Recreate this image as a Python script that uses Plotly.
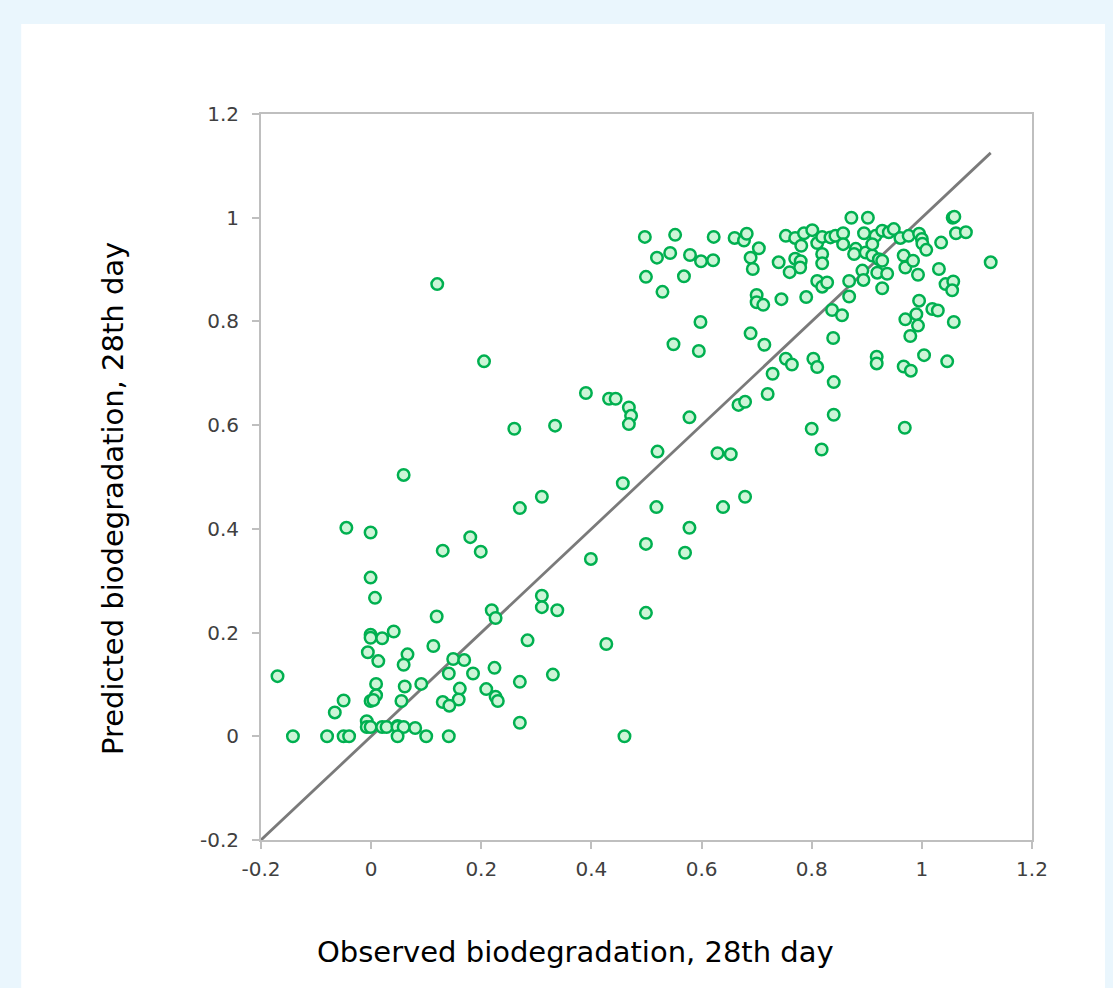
import plotly.graph_objects as go

# Observed (x) and predicted (y) biodegradation, 28th day
observed = [
    0.120, 0.205, 0.390, 0.432, 0.444, 0.468, 0.472, 0.468, 0.260, 0.334,
    0.059, 0.457, 0.310, 0.270, 0.518, -0.045, -0.001, 0.180, 0.130, 0.199,
    0.499, 0.399, -0.001, 0.007, 0.310, 0.310, 0.338, 0.219, 0.226, 0.499,
    0.119, -0.001, -0.001, 0.020, 0.041, -0.006, 0.013, 0.066, 0.059, 0.113,
    0.284, 0.427, 0.149, 0.169, 0.141, 0.185, 0.224, 0.330, 0.270, -0.170,
    0.009, 0.061, 0.091, 0.161, 0.009, -0.001, 0.004, -0.050, 0.055, 0.159,
    0.130, 0.142, 0.209, 0.226, 0.230, -0.066, 0.270, -0.008, -0.008, -0.001,
    0.020, 0.028, 0.048, 0.048, 0.059, 0.080, -0.142, -0.080, -0.050, -0.040,
    0.048, 0.100, 0.141, 0.460,
    0.549, 0.595, 0.689, 0.714, 0.839, 0.979, 0.753, 0.764, 0.803, 0.810,
    0.918, 0.918, 0.967, 0.980, 1.004, 1.046, 0.729, 0.840, 0.720, 0.667,
    0.679, 0.840, 0.800, 0.969, 0.578, 0.818, 0.629, 0.653, 0.520, 0.679,
    0.639, 0.578, 0.570,
    0.497, 0.552, 0.622, 0.660, 0.677, 0.682, 0.519, 0.543, 0.579, 0.599,
    0.621, 0.499, 0.568, 0.529, 0.598, 0.689, 0.693, 0.704, 0.740, 0.753,
    0.770, 0.786, 0.801, 0.781, 0.810, 0.819, 0.834, 0.819, 0.819, 0.770,
    0.780, 0.779, 0.760, 0.810, 0.819, 0.828, 0.700, 0.700, 0.712, 0.745,
    0.790,
    0.872, 0.902, 1.056, 1.059, 1.062, 1.080, 1.125, 0.843, 0.857, 0.857,
    0.895, 0.916, 0.928, 0.940, 0.949, 0.961, 0.976, 0.995, 1.000, 1.001,
    1.008, 1.035, 0.880, 0.877, 0.898, 0.910, 0.922, 0.928, 0.910, 0.892,
    0.894, 0.919, 0.937, 0.928, 0.967, 0.970, 0.984, 0.993, 1.031, 0.868,
    0.868, 1.043, 1.057, 1.055, 0.995, 0.837, 0.855, 1.019, 1.029, 0.990,
    0.970, 0.993, 1.058,
]
predicted = [
    0.872, 0.723, 0.662, 0.651, 0.651, 0.634, 0.618, 0.602, 0.593, 0.599,
    0.504, 0.488, 0.462, 0.440, 0.442, 0.402, 0.393, 0.384, 0.358, 0.356,
    0.371, 0.342, 0.306, 0.267, 0.271, 0.249, 0.243, 0.243, 0.228, 0.238,
    0.231, 0.196, 0.190, 0.189, 0.202, 0.162, 0.145, 0.158, 0.138, 0.174,
    0.185, 0.178, 0.149, 0.147, 0.121, 0.121, 0.132, 0.119, 0.105, 0.116,
    0.101, 0.096, 0.101, 0.092, 0.079, 0.068, 0.070, 0.069, 0.068, 0.071,
    0.066, 0.059, 0.091, 0.076, 0.068, 0.046, 0.026, 0.029, 0.018, 0.018,
    0.018, 0.018, 0.020, 0.018, 0.018, 0.016, 0.000, 0.000, 0.000, 0.000,
    0.000, 0.000, 0.000, 0.000,
    0.756, 0.743, 0.777, 0.755, 0.768, 0.772, 0.728, 0.717, 0.728, 0.712,
    0.732, 0.719, 0.713, 0.705, 0.735, 0.723, 0.699, 0.683, 0.660, 0.639,
    0.645, 0.620, 0.593, 0.595, 0.615, 0.553, 0.546, 0.544, 0.549, 0.462,
    0.442, 0.402, 0.354,
    0.963, 0.967, 0.963, 0.961, 0.956, 0.969, 0.923, 0.932, 0.928, 0.916,
    0.918, 0.886, 0.887, 0.857, 0.799, 0.923, 0.901, 0.941, 0.914, 0.965,
    0.961, 0.970, 0.976, 0.946, 0.951, 0.963, 0.962, 0.930, 0.912, 0.921,
    0.916, 0.904, 0.895, 0.878, 0.867, 0.875, 0.851, 0.837, 0.832, 0.843,
    0.847,
    1.000, 1.000, 1.000, 1.002, 0.970, 0.972, 0.914, 0.965, 0.970, 0.949,
    0.970, 0.965, 0.975, 0.972, 0.978, 0.961, 0.965, 0.969, 0.959, 0.950,
    0.938, 0.952, 0.940, 0.930, 0.933, 0.927, 0.920, 0.917, 0.949, 0.898,
    0.880, 0.894, 0.892, 0.864, 0.927, 0.904, 0.917, 0.890, 0.901, 0.878,
    0.848, 0.872, 0.877, 0.860, 0.840, 0.822, 0.812, 0.824, 0.821, 0.814,
    0.804, 0.792, 0.799,
]

# Reference line y = x
line_x = [-0.2, 1.125]
line_y = [-0.2, 1.125]

tick_vals = [-0.2, 0, 0.2, 0.4, 0.6, 0.8, 1, 1.2]
tick_text = ["-0.2", "0", "0.2", "0.4", "0.6", "0.8", "1", "1.2"]

x_title = "Observed biodegradation, 28th day"
y_title = "Predicted biodegradation, 28th day"

fig = go.Figure()
fig.add_trace(go.Scatter(
    x=line_x, y=line_y, mode="lines",
    line=dict(color="#7A7A7A", width=2.8),
    hoverinfo="skip", showlegend=False,
))
fig.add_trace(go.Scatter(
    x=observed, y=predicted, mode="markers",
    marker=dict(symbol="circle", size=11.5, color="#CDF5D7",
                line=dict(color="#00B050", width=2.5)),
    showlegend=False,
))

axis_common = dict(
    range=[-0.2, 1.2], tickvals=tick_vals, ticktext=tick_text,
    showgrid=False, zeroline=False,
    showline=True, linecolor="#BFBFBF", linewidth=2, mirror=True,
    ticks="outside", ticklen=7, tickwidth=1.5, tickcolor="#BFBFBF",
    tickfont=dict(family="DejaVu Sans", size=20, color="#404040"),
)

fig.update_layout(
    width=1113, height=988,
    margin=dict(l=253, r=89, t=106, b=156),
    paper_bgcolor="#EAF6FD",
    plot_bgcolor="white",
    xaxis=dict(**axis_common, ticklabelstandoff=3),
    yaxis=dict(**axis_common, ticklabelstandoff=9),
    shapes=[dict(
        type="rect", xref="paper", yref="paper",
        x0=-0.311, x1=1.2, y0=-0.3, y1=1.124,
        fillcolor="white", line=dict(width=0), layer="below",
    )],
    annotations=[
        dict(text=x_title, xref="paper", yref="paper", x=0.408, y=-0.154,
             xanchor="center", yanchor="middle", showarrow=False,
             font=dict(family="DejaVu Sans", size=29, color="#000000")),
        dict(text=y_title, xref="paper", yref="paper", x=-0.192, y=0.471,
             xanchor="center", yanchor="middle", showarrow=False, textangle=-90,
             font=dict(family="DejaVu Sans", size=29, color="#000000")),
    ],
)

fig.write_html("out.html", post_script="document.body.style.background='#EAF6FD';")
